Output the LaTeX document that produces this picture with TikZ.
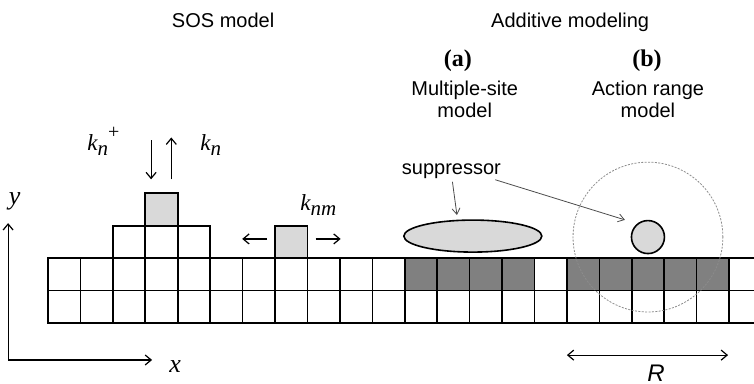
\documentclass[tikz,border=0pt]{standalone}
\usepackage{fontspec}
\setmainfont{Liberation Sans}
\newfontfamily\timesfont{Liberation Serif}
\usetikzlibrary{arrows.meta, positioning, calc, shapes.geometric}
\definecolor{sitegray}{HTML}{D9D9D9}
\definecolor{boundgray}{HTML}{808080}
\definecolor{rangegray}{HTML}{8C8C8C}
\newcommand{\kvar}[1]{{\itshape k}\raisebox{-2.5pt}{\fontsize{10.5}{10.5}\selectfont\itshape #1}}

\begin{document}
\begin{tikzpicture}[
  x=16.215pt, y=16.215pt,
  site/.style={draw=black, line width=0.8pt, line cap=rect},
  cellbox/.style={rectangle, draw=black, line width=0.8pt, fill=sitegray,
    minimum size=16.215pt, inner sep=0pt},
  label/.style={font=\fontsize{10}{11}\selectfont, align=center, inner sep=0pt},
  case/.style={font=\timesfont\fontsize{12}{12}\selectfont\bfseries, inner sep=0pt},
  rate/.style={font=\timesfont\fontsize{11.5}{12}\selectfont, inner sep=0pt, anchor=base west},
  hop/.style={-{Straight Barb[length=3pt,width=5pt]}, line width=0.6pt},
  pointer/.style={-{Straight Barb[length=3pt,width=4pt]}, line width=0.4pt, black!70}
]
  \useasboundingbox (-1.48,-1.88) rectangle (21.77,9.96);

  % Titles
  \node[label, anchor=base] (sos) at (5.4,9.1) {SOS model};
  \node[label, anchor=base] (additive) at (16.1,9.1) {Additive modeling};
  \node[case] (casea) at (12.64,8.08) {(a)};
  \node[label] (multisite) at (12.85,6.91) {Multiple-site\\model};
  \node[case] (caseb) at (18.47,8.08) {(b)};
  \node[label] (actrange) at (18.5,6.91) {Action range\\model};

  % Sites covered by suppressors
  \foreach \i in {11,12,13,14,16,17,18,19,20}
    \fill[boundgray] (\i,1) rectangle ++(1,1);

  % Crystal (two rows)
  \foreach \row in {0,1,2}
    \draw[site] (0,\row) -- (21.77,\row);
  \foreach \col in {0,...,21}
    \draw[site] (\col,0) -- (\col,2);

  % Surface steps
  \draw[site] (2,2) rectangle (5,3);
  \draw[site] (3,2) -- (3,3) (4,2) -- (4,3);
  \node[cellbox] (top) at (3.5,3.5) {};
  \node[cellbox] (adatom) at (7.5,2.5) {};

  % Attachment / detachment
  \draw[hop] ([xshift=-5.2pt,yshift=26pt]top.north) -- ([xshift=-5.2pt,yshift=6.6pt]top.north);
  \draw[hop] ([xshift=4.9pt,yshift=6.6pt]top.north) -- ([xshift=4.9pt,yshift=27.5pt]top.north);
  \node[rate] (kplus) at (1.2,5.33) {\kvar{n}\raisebox{6pt}{\fontsize{10}{10}\selectfont +}};
  \node[rate] (kminus) at (4.69,5.33) {\kvar{n}};

  % Surface diffusion
  \draw[hop] ([xshift=-3.6pt,yshift=1.5pt]adatom.west) -- ([xshift=-16pt,yshift=1.5pt]adatom.west);
  \draw[hop] ([xshift=3.7pt,yshift=1.5pt]adatom.east) -- ([xshift=16.2pt,yshift=1.5pt]adatom.east);
  \node[rate] (knm) at (7.77,3.48) {\kvar{nm}};

  % Axes
  \coordinate (origin) at (-1.23,-1.14);
  \draw[hop] (origin) -- ++(0,4.22) coordinate (ytip);
  \draw[hop] (origin) -- ++(4.44,0) coordinate (xtip);
  \node[font=\timesfont\fontsize{13}{13}\selectfont\itshape, inner sep=0pt] (ylab) at (-1.03,3.76) {y};
  \node[font=\timesfont\fontsize{13}{13}\selectfont\itshape, inner sep=0pt] (xlab) at (3.92,-1.33) {x};

  % Suppressors
  \node[ellipse, draw=black, line width=0.8pt, fill=sitegray,
    minimum width=69pt, minimum height=16pt, inner sep=0pt] (multi) at (13.1,2.68) {};
  \node[circle, draw=black, line width=0.8pt, fill=sitegray,
    minimum size=16.5pt, inner sep=0pt] (bead) at (18.5,2.65) {};
  \draw[rangegray, line width=0.4pt, dash pattern=on 1pt off 0.7pt] (bead.center) circle (2.31);

  \node[label] (supp) at (12.44,4.69) {suppressor};
  \coordinate (tipa) at (12.61,3.33);
  \coordinate (tipb) at (17.79,3.18);
  \draw[pointer] ([xshift=0.5pt,yshift=-1.5pt]supp.south) -- (tipa);
  \draw[pointer] ([xshift=-3pt,yshift=-0.5pt]supp.south east) -- (tipb);

  % Action range
  \coordinate (rleft) at (16,-0.99);
  \coordinate (rright) at (20.97,-0.99);
  \draw[{Straight Barb[length=3pt,width=5pt]}-{Straight Barb[length=3pt,width=5pt]}, line width=0.6pt] (rleft) -- (rright);
  \node[font=\fontsize{12}{12}\selectfont\itshape, inner sep=0pt, anchor=base] (rlab) at (18.75,-1.8) {R};
\end{tikzpicture}
\end{document}
